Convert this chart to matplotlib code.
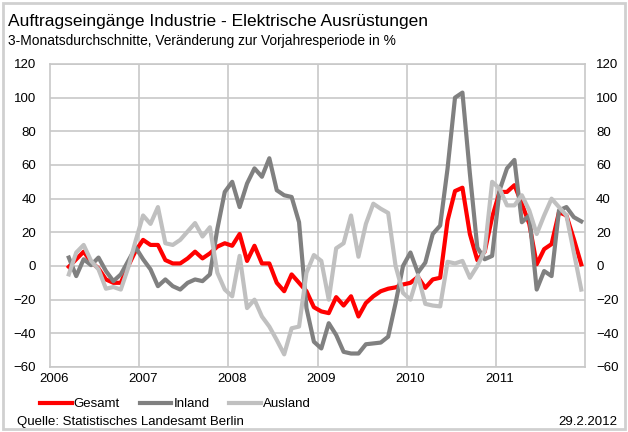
import numpy as np
import matplotlib
matplotlib.use("Agg")
import matplotlib.pyplot as plt
from matplotlib.patches import Rectangle

plt.rcParams['font.family'] = ['Liberation Sans', 'DejaVu Sans']

# Monatsindex: 0 = Jan 2006 ... 71 = Dez 2011, Daten ab März 2006
jahre = ['2006', '2007', '2008', '2009', '2010', '2011']
monat_start = 2

gesamt = [-0.5, 4, 8.5, 2.5, -1.5, -8, -10, -10, 0, 9,
          15.5, 12.5, 12.5, 3.5, 1.5, 1.5, 4.5, 8.5, 4.5, 7.5, 11.5, 13.5,
          12, 19, 3, 12, 1.5, 1.5, -10, -15, -5, -10, -15, -24.5,
          -27, -28, -18.5, -23.5, -18, -30, -22, -18, -15, -13.5, -12.7, -11,
          -10, -6.5, -13, -8, -7, 27, 44.5, 46.5, 19, 3.5, 8.5, 29,
          44, 44, 48, 37, 25, 1, 10, 13, 32, 30, 16, 1]

inland = [5, -6, 4, 0.5, 5, -3, -9, -5, 3, 11,
          4, -2, -12, -8, -12, -14, -10, -8, -9, -5, 22, 44,
          50, 35, 49, 58, 53, 64, 45, 42, 41, 26, -25, -45,
          -49, -34, -41, -51, -52, -52, -46.5, -46, -45.5, -42, -22, 0,
          8, -4, 2, 19, 24, 58, 100, 103, 55, 11, 4, 6,
          45, 58, 63, 26, 30, -14, -3, -6, 33, 35, 29, 26.5]

ausland = [-5, 8, 12.5, 3, -2, -13.5, -12.5, -14, -1, 15,
           30, 25, 35, 13.5, 12.5, 15.5, 20.5, 25.5, 17.5, 23, -4, -14,
           -18, 6, -25, -20, -30, -36, -44, -52.5, -37, -36, -4, 6.5,
           3, -20, 10.5, 13.5, 30, 5.5, 25, 37, 34, 31.5, 0, -16,
           -20, -5.5, -22.5, -23.5, -24, 2.5, 1.5, 3, -7, 0, 9, 50,
           46, 36, 36, 42, 33, 19, 30, 40, 35, 30, 8, -14]

monate = np.arange(monat_start, monat_start + len(gesamt))

fig = plt.figure(figsize=(6.28, 4.32), dpi=100)
ax = fig.add_axes([0.080, 0.1505, 0.8515, 0.7014])

ax.plot(monate, gesamt, color='#ff0000', lw=3.0, label='Gesamt', solid_joinstyle='round')
ax.plot(monate, inland, color='#808080', lw=3.0, label='Inland', solid_joinstyle='round')
ax.plot(monate, ausland, color='#c0c0c0', lw=3.0, label='Ausland', solid_joinstyle='round')

ax.set_xlim(-0.5, 71.5)
ax.set_ylim(-60, 120)
ax.set_yticks(np.arange(-60, 121, 20))
ax.set_xticks(np.arange(0, 72, 12))
ax.set_xticklabels(jahre)
ax.set_xticks(np.arange(11.5, 71, 12), minor=True)

ax.grid(axis='y', color='#c8c8c8', lw=1.2)
ax.grid(axis='x', which='minor', color='#c8c8c8', lw=1.2)
ax.set_axisbelow(True)
for s in ax.spines.values():
    s.set_color('#c8c8c8')
    s.set_linewidth(1.2)

ax.tick_params(axis='both', which='both', length=0, labelsize=9.5, colors='#000000')
ax.tick_params(axis='y', pad=10)
ax.tick_params(axis='x', pad=4)

# rechte Achse mit gleicher Skala
ax2 = ax.twinx()
ax2.set_ylim(ax.get_ylim())
ax2.set_yticks(np.arange(-60, 121, 20))
ax2.tick_params(axis='y', length=0, labelsize=9.5, pad=8)
for s in ax2.spines.values():
    s.set_visible(False)

fig.text(0.013, 0.951, 'Auftragseingänge Industrie - Elektrische Ausrüstungen',
         fontsize=12.5, va='center', ha='left')
fig.text(0.013, 0.905, '3-Monatsdurchschnitte, Veränderung zur Vorjahresperiode in %',
         fontsize=9.9, va='center', ha='left')

fig.legend(handles=ax.get_lines(), loc='center left', bbox_to_anchor=(0.045, 0.064), ncol=3,
           frameon=False, fontsize=9.5, handlelength=2.4, handletextpad=0.15, columnspacing=1.5)

fig.text(0.027, 0.024, 'Quelle: Statistisches Landesamt Berlin', fontsize=9.5, va='center', ha='left')
fig.text(0.983, 0.024, '29.2.2012', fontsize=9.5, va='center', ha='right')

fig.patches.append(Rectangle((0.005, 0.007), 0.99, 0.986, transform=fig.transFigure,
                             fill=False, edgecolor='#d0d0d0', lw=2))

fig.savefig('out.png', dpi=100)
